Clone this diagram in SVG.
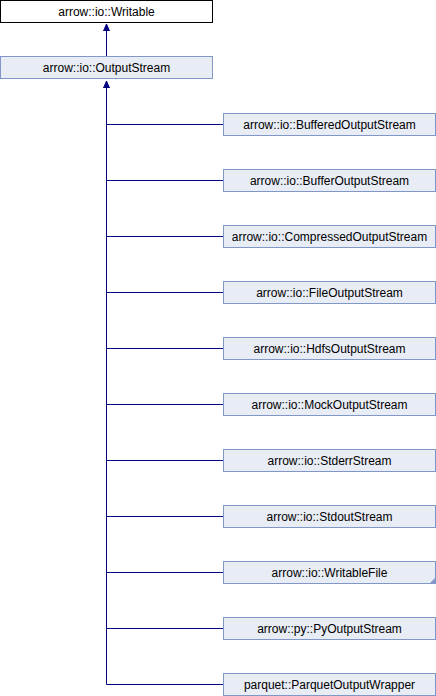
<svg xmlns="http://www.w3.org/2000/svg" width="436" height="696" viewBox="0 0 436 696">
<style>
.n{fill:#e8ecf5;stroke:#8097c8;stroke-width:1}
.t{font-family:"Liberation Sans",Arial,sans-serif;font-size:12px;fill:#000;text-anchor:middle}
.e{stroke:#000080;stroke-width:1;fill:none}
</style>
<defs>
<marker id="a" markerWidth="8" markerHeight="8" refX="7" refY="4" orient="auto" markerUnits="userSpaceOnUse">
<path d="M0,1 L7,4 L0,7 Z" fill="#000080" stroke="#000080"/>
</marker>
</defs>
<rect width="436" height="696" fill="#fff"/>
<g id="edges">
<path class="e" d="M106.5,56 V24" marker-end="url(#a)"/>
<path class="e" d="M223,684.5 H106.5 V81" marker-end="url(#a)"/>
<path class="e" d="M106.5,124.5 H223"/>
<path class="e" d="M106.5,180.5 H223"/>
<path class="e" d="M106.5,236.5 H223"/>
<path class="e" d="M106.5,292.5 H223"/>
<path class="e" d="M106.5,348.5 H223"/>
<path class="e" d="M106.5,404.5 H223"/>
<path class="e" d="M106.5,460.5 H223"/>
<path class="e" d="M106.5,516.5 H223"/>
<path class="e" d="M106.5,572.5 H223"/>
<path class="e" d="M106.5,628.5 H223"/>
</g>
<g id="n0"><rect x="0.5" y="0.5" width="212" height="22" fill="#fff" stroke="#000"/><text class="t" x="106.5" y="16">arrow::io::Writable</text></g>
<g id="n1"><rect class="n" x="0.5" y="56.5" width="212" height="22"/><text class="t" x="106.5" y="72">arrow::io::OutputStream</text></g>
<g id="n2"><rect class="n" x="223.5" y="113.5" width="212" height="22"/><text class="t" x="329.5" y="129">arrow::io::BufferedOutputStream</text></g>
<g id="n3"><rect class="n" x="223.5" y="169.5" width="212" height="22"/><text class="t" x="329.5" y="185">arrow::io::BufferOutputStream</text></g>
<g id="n4"><rect class="n" x="223.5" y="225.5" width="212" height="22"/><text class="t" x="329.5" y="241">arrow::io::CompressedOutputStream</text></g>
<g id="n5"><rect class="n" x="223.5" y="281.5" width="212" height="22"/><text class="t" x="329.5" y="297">arrow::io::FileOutputStream</text></g>
<g id="n6"><rect class="n" x="223.5" y="337.5" width="212" height="22"/><text class="t" x="329.5" y="353">arrow::io::HdfsOutputStream</text></g>
<g id="n7"><rect class="n" x="223.5" y="393.5" width="212" height="22"/><text class="t" x="329.5" y="409">arrow::io::MockOutputStream</text></g>
<g id="n8"><rect class="n" x="223.5" y="449.5" width="212" height="22"/><text class="t" x="329.5" y="465">arrow::io::StderrStream</text></g>
<g id="n9"><rect class="n" x="223.5" y="505.5" width="212" height="22"/><text class="t" x="329.5" y="521">arrow::io::StdoutStream</text></g>
<g id="n10"><rect class="n" x="223.5" y="561.5" width="212" height="22"/><path d="M435,578 L435,583 L430,583 Z" fill="#8097c8"/><text class="t" x="329.5" y="577">arrow::io::WritableFile</text></g>
<g id="n11"><rect class="n" x="223.5" y="617.5" width="212" height="22"/><text class="t" x="329.5" y="633">arrow::py::PyOutputStream</text></g>
<g id="n12"><rect class="n" x="223.5" y="673.5" width="212" height="22"/><text class="t" x="329.5" y="689">parquet::ParquetOutputWrapper</text></g>
</svg>
